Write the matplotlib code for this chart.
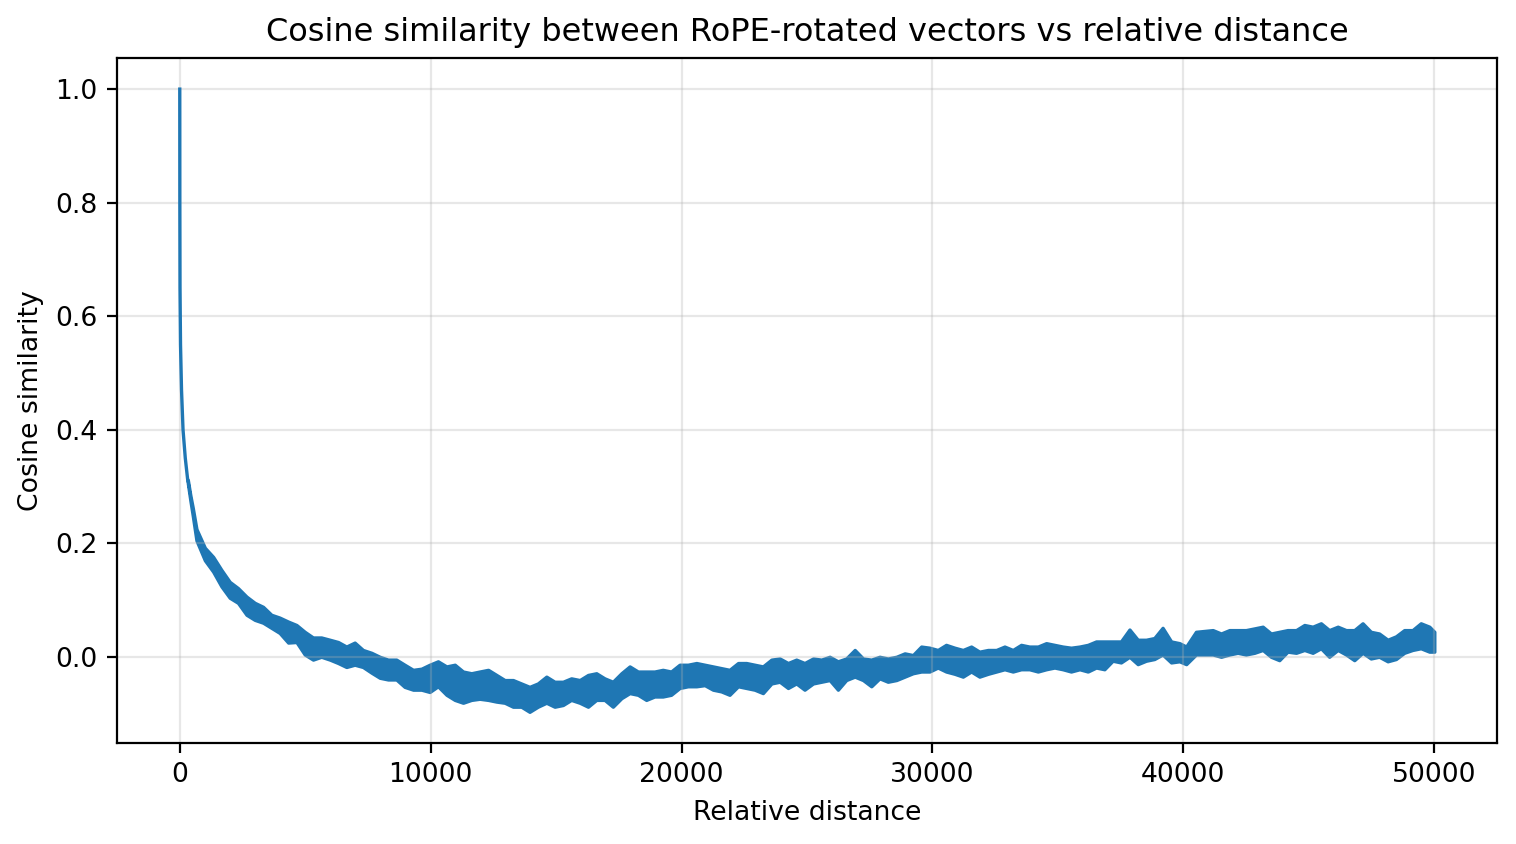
import matplotlib
matplotlib.use('Agg')
import matplotlib.pyplot as plt

# steep start of the curve
head_x = [0, 3, 10, 30, 70, 130, 220, 320]
head_y = [1.0, 0.80, 0.65, 0.55, 0.47, 0.40, 0.35, 0.31]

# noisy band afterwards: distance, upper edge, lower edge
band_x = [320, 420, 520, 665, 1000, 1330, 1660, 1990, 2320, 2660, 2990, 3320, 3650,
          3980, 4320, 4650, 4980, 5310, 5640, 5980, 6310, 6640, 6970,
          7300, 7640, 7970, 8300, 8630, 8960, 9300, 9630, 9960, 10290,
          10630, 10960, 11290, 11620, 11950, 12290, 12620, 12950, 13280, 13610,
          13940, 14270, 14610, 14940, 15270, 15600, 15940, 16270, 16600, 16930,
          17260, 17600, 17930, 18260, 18590, 18920, 19250, 19580, 19920, 20250,
          20590, 20920, 21250, 21580, 21910, 22250, 22580, 22910, 23240, 23580,
          23910, 24240, 24570, 24900, 25240, 25570, 25900, 26230, 26560, 26900,
          27230, 27560, 27890, 28220, 28560, 28890, 29220, 29550, 29880, 30210,
          30540, 30880, 31210, 31540, 31870, 32210, 32540, 32870, 33200, 33530,
          33860, 34200, 34530, 34860, 35190, 35520, 35860, 36190, 36520, 36850,
          37180, 37510, 37850, 38180, 38510, 38840, 39170, 39510, 39840, 40110,
          40500, 41170, 41500, 41830, 42160, 42490, 42830, 43160, 43490, 43820,
          44150, 44490, 44820, 45150, 45480, 45810, 46150, 46480, 46810, 47140,
          47470, 47800, 48140, 48470, 48800, 49130, 49460, 49800, 50000]
band_hi = [0.312, 0.285, 0.262, 0.225, 0.192, 0.176, 0.153, 0.132, 0.121, 0.106, 0.095, 0.088, 0.074,
           0.069, 0.062, 0.056, 0.044, 0.034, 0.034, 0.030, 0.026, 0.018, 0.025,
           0.012, 0.007, 0.000, -0.005, -0.005, -0.014, -0.023, -0.021, -0.014, -0.008,
           -0.017, -0.014, -0.026, -0.029, -0.026, -0.023, -0.032, -0.041, -0.041, -0.047,
           -0.053, -0.047, -0.035, -0.044, -0.044, -0.038, -0.041, -0.032, -0.029, -0.038,
           -0.044, -0.029, -0.017, -0.026, -0.026, -0.026, -0.023, -0.026, -0.014, -0.014,
           -0.011, -0.014, -0.017, -0.020, -0.023, -0.011, -0.011, -0.014, -0.017, -0.005,
           -0.003, -0.011, -0.005, -0.011, -0.003, -0.005, 0.000, -0.008, -0.003, 0.012,
           -0.003, -0.005, 0.000, -0.003, 0.000, 0.006, 0.003, 0.018, 0.016, 0.012,
           0.021, 0.016, 0.012, 0.018, 0.009, 0.012, 0.012, 0.018, 0.012, 0.021,
           0.018, 0.018, 0.024, 0.021, 0.018, 0.016, 0.018, 0.021, 0.027, 0.027,
           0.027, 0.027, 0.048, 0.030, 0.030, 0.033, 0.051, 0.027, 0.024, 0.018,
           0.044, 0.047, 0.041, 0.047, 0.047, 0.047, 0.050, 0.053, 0.041, 0.044,
           0.047, 0.047, 0.056, 0.053, 0.059, 0.047, 0.053, 0.047, 0.047, 0.059,
           0.044, 0.041, 0.030, 0.036, 0.047, 0.047, 0.059, 0.053, 0.044]
band_lo = [0.306, 0.276, 0.248, 0.205, 0.170, 0.150, 0.124, 0.104, 0.095, 0.074, 0.065, 0.060, 0.051,
           0.042, 0.025, 0.026, 0.004, -0.005, 0.000, -0.005, -0.011, -0.018, -0.014,
           -0.018, -0.028, -0.037, -0.040, -0.040, -0.053, -0.058, -0.058, -0.062, -0.052,
           -0.067, -0.076, -0.081, -0.076, -0.074, -0.076, -0.079, -0.081, -0.088, -0.088,
           -0.097, -0.088, -0.081, -0.088, -0.085, -0.076, -0.081, -0.088, -0.076, -0.076,
           -0.088, -0.073, -0.064, -0.067, -0.076, -0.070, -0.070, -0.067, -0.055, -0.052,
           -0.052, -0.050, -0.058, -0.061, -0.067, -0.052, -0.055, -0.058, -0.064, -0.047,
           -0.044, -0.055, -0.047, -0.058, -0.047, -0.044, -0.041, -0.058, -0.041, -0.035,
           -0.041, -0.052, -0.038, -0.044, -0.041, -0.035, -0.029, -0.026, -0.026, -0.019,
           -0.026, -0.030, -0.035, -0.026, -0.035, -0.030, -0.026, -0.022, -0.026, -0.022,
           -0.022, -0.026, -0.022, -0.019, -0.022, -0.026, -0.022, -0.026, -0.019, -0.022,
           -0.007, -0.010, 0.000, -0.013, -0.007, -0.004, 0.004, -0.010, -0.008, -0.013,
           0.004, 0.004, 0.000, 0.004, 0.007, 0.004, 0.007, 0.012, 0.000, -0.006,
           0.009, 0.007, 0.012, 0.007, 0.015, 0.000, 0.012, 0.004, -0.006, 0.007,
           -0.003, 0.000, -0.008, -0.004, 0.007, 0.012, 0.015, 0.009, 0.009]

blue = '#1f77b4'
plt.rcParams['font.size'] = 9.6

fig = plt.figure(figsize=(7.58, 4.22), dpi=200)
ax = fig.add_subplot(1, 1, 1)
plt.subplots_adjust(left=0.0772, right=0.9875, top=0.9313, bottom=0.1197)

# curve start as a line, rest as the noise band
ax.plot(head_x, head_y, color=blue, linewidth=1.2)
ax.fill_between(band_x, band_lo, band_hi, color=blue, edgecolor=blue, linewidth=1.2)

ax.set_title("Cosine similarity between RoPE-rotated vectors vs relative distance")
ax.set_xlabel("Relative distance")
ax.set_ylabel("Cosine similarity")
ax.grid(True, alpha=0.3)

fig.savefig("out.png", dpi=200)
